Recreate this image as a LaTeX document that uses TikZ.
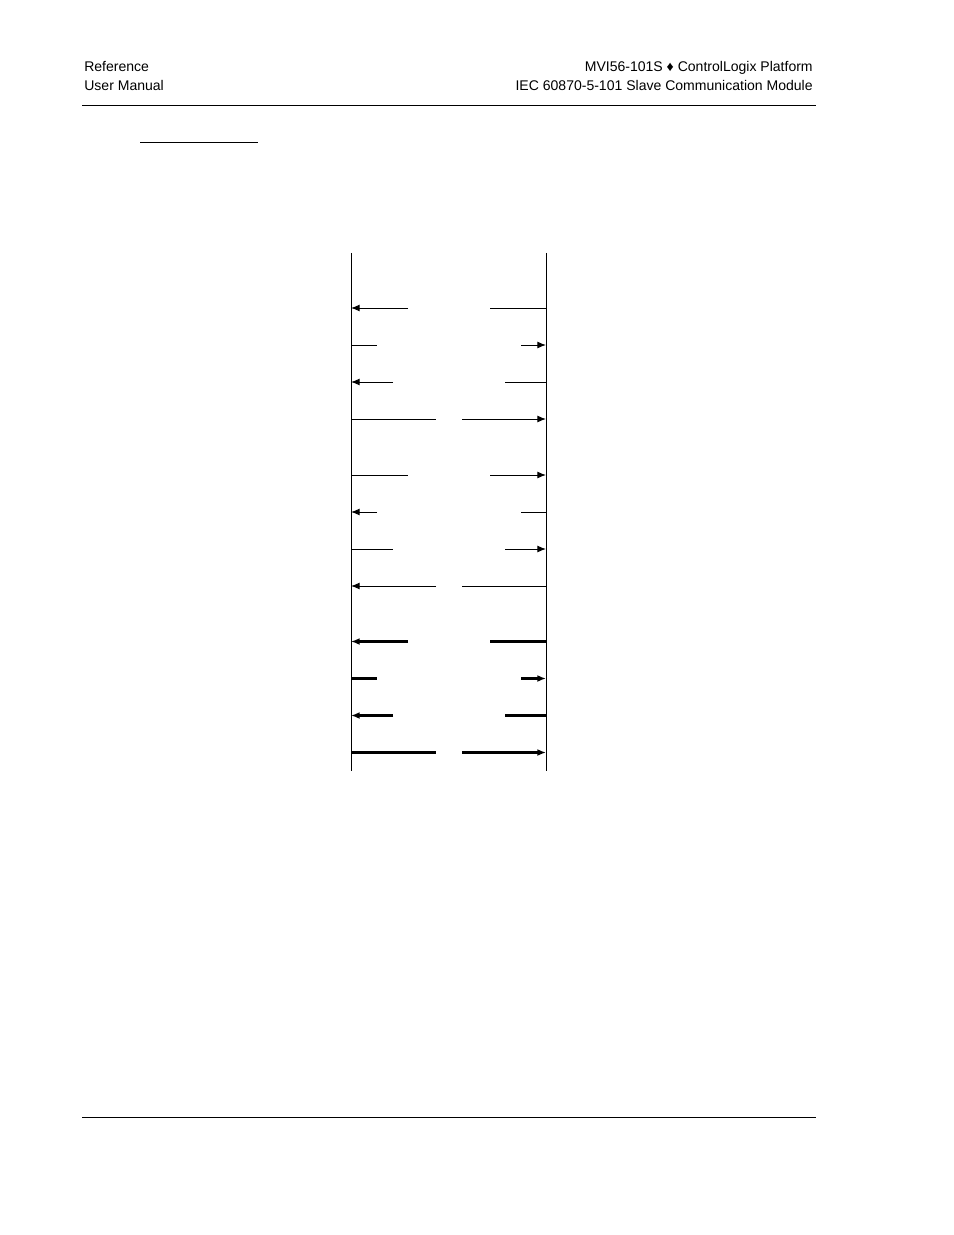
\documentclass[tikz,border=0pt]{standalone}
\usepackage{fontspec}
\setmainfont{Liberation Sans}
\usetikzlibrary{arrows.meta}
\tikzset{
  thinmsg/.style={line width=0.6pt},
  boldmsg/.style={line width=1.3pt},
  msgtip/.style={-{Latex[length=5.5pt,width=4.4pt]}},
  hdr/.style={font=\fontsize{9pt}{12pt}\selectfont, inner sep=0pt}
}
% message to the right: name, y, gap start, gap end, style
\newcommand{\msgright}[5]{
  \coordinate (#1l) at (351,#2); \coordinate (#1a) at (#3,#2);
  \coordinate (#1b) at (#4,#2); \coordinate (#1r) at (546,#2);
  \draw[#5] (#1l) -- (#1a);
  \draw[#5,msgtip] (#1b) -- (#1r);}
% message to the left: name, y, gap start, gap end, style
\newcommand{\msgleft}[5]{
  \coordinate (#1l) at (351,#2); \coordinate (#1a) at (#3,#2);
  \coordinate (#1b) at (#4,#2); \coordinate (#1r) at (546,#2);
  \draw[#5,msgtip] (#1a) -- (#1l);
  \draw[#5] (#1r) -- (#1b);}

\begin{document}
\begin{tikzpicture}[x=0.64151pt,y=-0.64151pt]
\useasboundingbox (0,0) rectangle (954,1235);
% header
\node[hdr,anchor=base west] (hdrref) at (84,71.5) {Reference};
\node[hdr,anchor=base west] (hdrman) at (84,90.5) {User Manual};
\node[hdr,anchor=base east] (hdrmvi) at (813,71.5) {MVI56-101S ♦ ControlLogix Platform};
\node[hdr,anchor=base east] (hdriec) at (813,90.5) {IEC 60870-5-101 Slave Communication Module};
\coordinate (hrulel) at (82,105); \coordinate (hruler) at (816,105);
\draw[line width=0.6pt] (hrulel) -- (hruler);
\coordinate (ulinel) at (140,142); \coordinate (uliner) at (258,142);
\draw[line width=0.6pt] (ulinel) -- (uliner);
% lifelines
\coordinate (lefttop) at (351,253); \coordinate (leftbot) at (351,771);
\coordinate (righttop) at (546,253); \coordinate (rightbot) at (546,771);
\draw[line width=0.6pt] (lefttop) -- (leftbot);
\draw[line width=0.6pt] (righttop) -- (rightbot);
% first group
\msgleft{ma}{308}{408}{490}{thinmsg}
\msgright{mb}{345}{377}{521}{thinmsg}
\msgleft{mc}{382}{393}{505}{thinmsg}
\msgright{md}{419}{436}{462}{thinmsg}
% second group
\msgright{me}{475}{408}{490}{thinmsg}
\msgleft{mf}{512}{377}{521}{thinmsg}
\msgright{mg}{549}{393}{505}{thinmsg}
\msgleft{mh}{586}{436}{462}{thinmsg}
% third group
\msgleft{mi}{641.5}{408}{490}{boldmsg}
\msgright{mj}{678.5}{377}{521}{boldmsg}
\msgleft{mk}{715.5}{393}{505}{boldmsg}
\msgright{mm}{752.5}{436}{462}{boldmsg}
% footer
\coordinate (frulel) at (82,1117); \coordinate (fruler) at (816,1117);
\draw[line width=0.6pt] (frulel) -- (fruler);
\end{tikzpicture}
\end{document}
